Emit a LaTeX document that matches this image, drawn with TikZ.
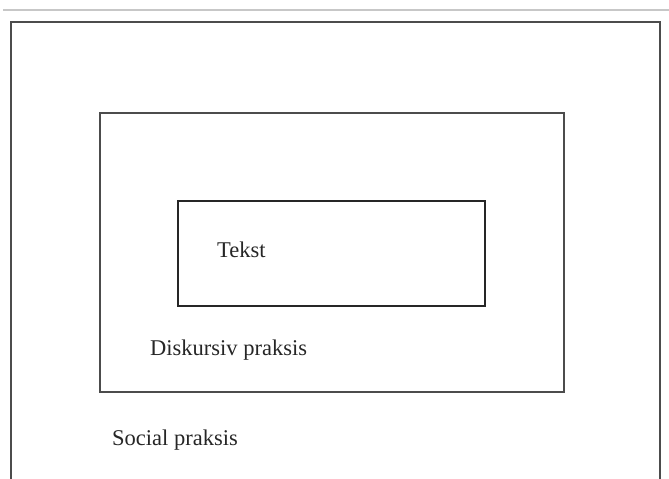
\documentclass[tikz,border=0pt]{standalone}
\usepackage{fontspec}
\setmainfont{Liberation Serif}
\usetikzlibrary{positioning}

\begin{document}
\begin{tikzpicture}[x=1pt, y=-1pt]
    \useasboundingbox (0,0) rectangle (669,479);
    \tikzset{frame/.style={draw=black!70, line width=1.3pt},
             label/.style={anchor=base west, inner sep=0pt, font=\fontsize{22.5}{26}\selectfont, text=black!85}}
    
    \draw [black!22, line width=1.8pt] (3,10) -- (669,10);
    \draw [frame] (11,479) -- (11,22) -- (660,22) -- (660,479);
    
    \draw [frame] (100,113) rectangle (564,392);
    \draw [frame, draw=black!85] (178,201) rectangle (485,306);
    
    \node (tekst) [label] at (217,257) {Tekst};
    \node (diskurs) [label] at (150,355) {Diskursiv praksis};
    \node (social) [label] at (112,445) {Social praksis};
\end{tikzpicture}
\end{document}
